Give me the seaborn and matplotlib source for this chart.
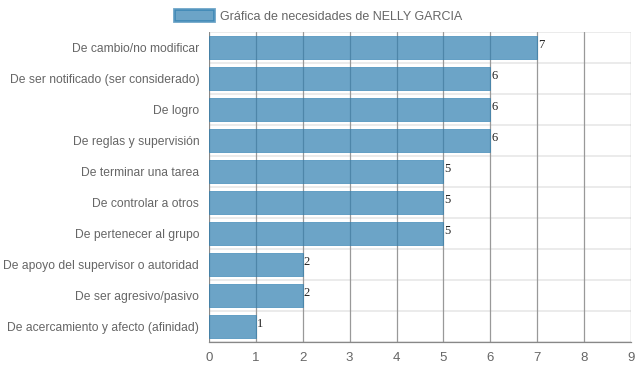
import pandas as pd
import matplotlib.pyplot as plt
import seaborn as sns

# datos de la gráfica
categorias = [
    "De cambio/no modificar",
    "De ser notificado (ser considerado)",
    "De logro",
    "De reglas y supervisión",
    "De terminar una tarea",
    "De controlar a otros",
    "De pertenecer al grupo",
    "De apoyo del supervisor o autoridad",
    "De ser agresivo/pasivo",
    "De acercamiento y afecto (afinidad)",
]
valores = [7, 6, 6, 6, 5, 5, 5, 2, 2, 1]
ticks_x = [0, 1, 2, 3, 4, 5, 6, 7, 8, 9]
titulo_leyenda = "Gráfica de necesidades de NELLY GARCIA"

data = pd.DataFrame({"categoria": categorias, "valor": valores})

sns.set_style("white")
plt.rcParams["font.family"] = ["Liberation Sans", "DejaVu Sans"]

fig = plt.figure(figsize=(6.37, 3.71), dpi=100)
ax = fig.add_axes([0.328, 0.078, 0.6626, 0.836])

sns.barplot(
    data=data,
    x="valor",
    y="categoria",
    orient="h",
    color="#2e7eb0",
    saturation=1,
    alpha=0.7,
    width=0.72,
    edgecolor="#2e7eb0",
    linewidth=0.6,
    ax=ax,
    zorder=2,
    label=titulo_leyenda,
)
if ax.get_legend() is not None:
    ax.get_legend().remove()

# valores al final de cada barra
for i, v in enumerate(valores):
    ax.text(v + 0.02, i - 0.08, str(v), fontsize=9, family="Liberation Serif",
            color="#222222", va="center", ha="left", zorder=3)

ax.set_xlim(0, 9)
ax.set_ylim(len(categorias) - 0.5, -0.5)
ax.set_xticks(ticks_x)
ax.set_xticklabels([str(t) for t in ticks_x], color="#666666", fontsize=9.5)
ax.tick_params(axis="y", labelsize=8.7, labelcolor="#666666", length=0, pad=7)
ax.tick_params(axis="x", length=5, color="#aaaaaa", pad=2)
ax.set_xlabel("")
ax.set_ylabel("")

# rejilla
for t in ticks_x:
    ax.axvline(t, color="#999999" if t > 0 else "#888888", linewidth=0.9, zorder=1)
for k in range(len(categorias) + 1):
    ax.axhline(k - 0.5, color="#e8e8e8", linewidth=1.2, zorder=0)

for s in ["top", "right", "left"]:
    ax.spines[s].set_visible(False)
ax.spines["bottom"].set_color("#888888")
ax.spines["bottom"].set_linewidth(0.9)

handles, labels = ax.get_legend_handles_labels()
leg = fig.legend(
    handles[:1],
    labels[:1],
    loc="upper center",
    bbox_to_anchor=(0.5, 1.005),
    frameon=False,
    fontsize=9,
    handlelength=3.2,
    handleheight=1.1,
    handletextpad=0.5,
)
for txt in leg.get_texts():
    txt.set_color("#666666")
for h in leg.legend_handles:
    h.set_edgecolor("#2e7eb0")
    h.set_linewidth(2)

fig.savefig("out.png", dpi=100)
